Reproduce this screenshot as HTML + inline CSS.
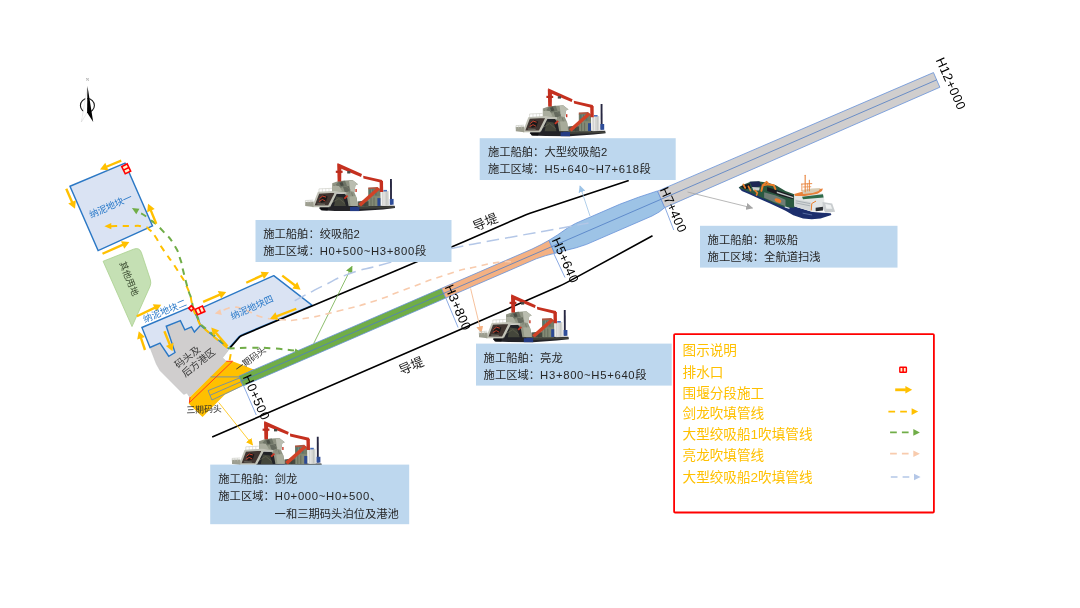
<!DOCTYPE html>
<html lang="zh-CN">
<head>
<meta charset="utf-8">
<title>施工区域分段示意图</title>
<style>
html,body{margin:0;padding:0;background:#fff;}
body{width:1080px;height:608px;overflow:hidden;position:relative;font-family:"Liberation Sans","Noto Sans CJK SC",sans-serif;}
svg{position:absolute;left:0;top:0;display:block;}
svg text{opacity:0.999;}
</style>
</head>
<body>
<svg width="1080" height="608" viewBox="0 0 1080 608">
<defs>
<marker id="tY" viewBox="0 0 10 10" refX="9" refY="5" markerWidth="7" markerHeight="7" orient="auto" markerUnits="userSpaceOnUse"><path d="M0,0 L10,5 L0,10 Z" fill="#FFC000"/></marker>
<marker id="tG" viewBox="0 0 10 10" refX="9" refY="5" markerWidth="7" markerHeight="7" orient="auto" markerUnits="userSpaceOnUse"><path d="M0,0 L10,5 L0,10 Z" fill="#70AD47"/></marker>
<marker id="tO" viewBox="0 0 10 10" refX="9" refY="5" markerWidth="7" markerHeight="7" orient="auto" markerUnits="userSpaceOnUse"><path d="M0,0 L10,5 L0,10 Z" fill="#F4B183"/></marker>
<marker id="tB" viewBox="0 0 10 10" refX="9" refY="5" markerWidth="7" markerHeight="7" orient="auto" markerUnits="userSpaceOnUse"><path d="M0,0 L10,5 L0,10 Z" fill="#9DC3E6"/></marker>
<marker id="tGy" viewBox="0 0 10 10" refX="9" refY="5" markerWidth="7" markerHeight="7" orient="auto" markerUnits="userSpaceOnUse"><path d="M0,0 L10,5 L0,10 Z" fill="#A6A6A6"/></marker>
<filter id="soft" x="-5%" y="-5%" width="110%" height="110%"><feGaussianBlur stdDeviation="0.3"/></filter>
<filter id="softd" x="-5%" y="-5%" width="110%" height="110%" color-interpolation-filters="sRGB"><feGaussianBlur stdDeviation="0.3"/><feComponentTransfer><feFuncR type="linear" slope="0.93"/><feFuncG type="linear" slope="0.93"/><feFuncB type="linear" slope="0.93"/></feComponentTransfer></filter>

</defs>
<polygon points="150.00,347.50 160.00,343.10 168.75,356.25 175.00,352.50 166.25,326.25 180.40,320.60 184.80,329.80 191.50,326.90 194.40,332.00 200.40,325.40 228.30,350.40 222.60,357.80 226.25,361.25 189.60,396.90 186.90,393.10 183.75,394.40 160.00,370.60 156.25,363.75" fill="#D0CECE" stroke="#BFBFBF" stroke-width="0.5"/>
<g stroke="#2B78C5" stroke-width="1.4" fill="#DAE3F3" stroke-linejoin="miter">
<polygon points="70.00,186.25 125.00,163.10 152.50,226.00 98.10,250.60"/>
<polygon points="141.90,327.50 192.40,306.20 200.40,325.40 194.40,332.00 191.50,326.90 184.80,329.80 180.40,320.60 166.25,326.25 175.00,352.50 168.75,356.25 160.00,343.10 150.00,347.50"/>
<path d="M195.6,310.6 L273.75,275.6 L312.2,305.4 L242.4,334.6 Q240.4,335.2 239,336.8 L228.5,348.8 L200.4,325.2 Z" stroke-linejoin="round"/>
</g>
<g fill="none" stroke="#000" stroke-width="1.6" stroke-linejoin="round" stroke-linecap="butt">
<path d="M229.6,348.4 L239.6,337 Q240.8,335.8 242.6,335.2 L397.5,270 L465,241.2 L522,216.4 Q526,214.6 530,213.2 L628.75,180.5"/>
<path d="M212.2,437.1 L443.75,336.8 L558,286.8 Q562.5,284.8 567,282.4 L652.5,235.8"/>
</g>
<path d="M103.1,261.25 L133.5,249.2 Q139.4,247 141.4,252.6 L150.4,279.8 Q151.4,283 150,286.4 L132,326.6 Z" fill="#C5E0B4" stroke="#A9D18E" stroke-width="0.8"/>
<polygon points="226.25,361.25 232.50,361.25 253.75,369.40 240.00,377.40 243.20,385.40 225.00,394.40 202.50,416.90 188.75,403.75 190.00,396.90" fill="#FFC000"/>
<g fill="none" stroke="#5F86BE" stroke-width="0.8">
<polygon points="208.10,390.60 240.00,377.80 242.80,385.60 211.90,400.00"/>
<path d="M210,395.3 L241.3,381.6"/>
<path d="M210.6,376.9 L239.4,376.9 L253.75,369.4"/>
</g>
<path d="M190,397 L189.4,402.6 L232.5,361.25 L226.25,361.25" fill="none" stroke="#FF3B1F" stroke-width="1"/>
<polygon points="238.94,376.18 441.51,288.32 445.73,298.05 243.16,385.90" fill="#70AD47" stroke="#6690D8" stroke-width="0.8" stroke-linejoin="round"/>
<polygon points="441.51,288.32 532.06,249.05 541.04,244.62 548.98,240.30 554.63,253.33 545.81,255.62 536.28,258.78 445.73,298.05" fill="#F4B183" stroke="#6690D8" stroke-width="0.8" stroke-linejoin="round"/>
<polygon points="548.98,240.30 557.55,234.95 567.61,227.97 575.47,223.47 619.69,204.29 638.43,197.25 657.50,190.95 664.74,207.64 659.03,212.08 652.01,216.00 586.69,244.33 576.20,247.79 564.40,250.73 554.63,253.33" fill="#9DC3E6" stroke="#6690D8" stroke-width="0.8" stroke-linejoin="round"/>
<polygon points="657.58,191.13 933.48,72.56 939.85,87.24 664.74,207.64" fill="#D0CECE" stroke="#6690D8" stroke-width="0.8" stroke-linejoin="round"/>
<path d="M241.09,381.13 L551.72,246.63 L936.66,79.90" stroke="#4F7CC4" stroke-width="0.8" fill="none"/>
<g stroke="#7FA2E0" stroke-width="0.9" fill="none">
<path d="M243.75,386.25 L256.25,415"/>
<path d="M445.6,297.5 L458.1,327.5"/>
<path d="M554,254 L565,277.5"/>
<path d="M665,207.5 L673.75,230"/>
</g>
<g fill="none" stroke-width="0.8">
<path d="M218.75,402.5 L252.6,445" stroke="#FFC000" marker-end="url(#tY)"/>
<path d="M313.75,343.4 L352,266.4" stroke="#70AD47" marker-end="url(#tG)"/>
<path d="M470.6,288.5 L481.25,332.5" stroke="#F4B183" marker-end="url(#tO)"/>
<path d="M590,216 L580,186" stroke="#9DC3E6" marker-end="url(#tB)"/>
<path d="M687.5,192 L752.5,208" stroke="#A6A6A6" marker-end="url(#tGy)"/>
</g>
<g fill="none">
<path d="M588.50,223.00 C582.27,224.17 598.50,221.27 569.80,226.50 C541.10,231.73 541.83,231.40 502.40,238.70 C462.97,246.00 482.30,242.10 451.50,248.40 C420.70,254.70 433.83,252.00 410.00,257.60 C386.17,263.20 400.20,259.80 380.00,265.20 C359.80,270.60 367.40,267.40 349.40,273.80 C331.40,280.20 340.17,277.60 326.00,284.40 C311.83,291.20 318.10,288.33 306.90,294.20 C295.70,300.07 297.23,299.40 292.40,302.00" stroke="#B4C7E7" stroke-width="1.5" stroke-dasharray="12.6 5.8"/>
<path d="M511.00,261.70 C506.67,261.93 509.47,260.73 498.00,262.40 C486.53,264.07 493.07,262.87 476.60,266.70 C460.13,270.53 472.88,266.13 448.60,273.90 C424.32,281.67 427.85,281.17 403.75,290.00 C379.65,298.83 397.78,293.47 376.30,300.40 C354.82,307.33 363.90,304.67 339.30,310.80 C314.70,316.93 321.02,315.80 302.50,318.80 C283.98,321.80 296.25,320.13 283.75,319.80 C271.25,319.47 276.25,320.40 265.00,317.80 C253.75,315.20 258.00,315.20 250.00,312.00 C242.00,308.80 246.42,309.77 241.00,308.20 C235.58,306.63 238.55,307.10 233.75,307.30 C228.95,307.50 230.98,307.17 226.60,308.80 C222.22,310.43 222.60,311.07 220.60,312.20" stroke="#F8CBAD" stroke-width="1.6" stroke-dasharray="6.4 5.3"/>
<path d="M229.6,360.4 L230.7,354.1" stroke="#FFC000" stroke-width="2"/>
<path d="M227.5,348 L200.4,325.6 L192.6,308  C192.30,306.07 193.37,308.73 191.70,302.20 C190.03,295.67 192.40,299.13 187.60,288.40 C182.80,277.67 185.70,283.33 177.30,270.00 C168.90,256.67 169.63,259.40 162.40,248.40 C155.17,237.40 159.73,243.07 155.60,237.00 C151.47,230.93 154.17,233.67 150.00,230.20 C145.83,226.73 149.77,228.00 143.10,226.60 C136.43,225.20 140.90,226.13 130.00,226.00 C119.10,225.87 116.93,226.13 110.40,226.20" stroke="#FFC000" stroke-width="2" stroke-dasharray="6.3 5.6"/>
<path d="M294.00,350.40 C286.00,349.67 284.67,349.07 270.00,348.20 C255.33,347.33 263.33,347.73 250.00,347.80 C236.67,347.87 236.67,348.20 230.00,348.40 L200.8,324.6 L193,307.6  C192.33,304.40 192.40,303.27 191.00,298.00 C189.60,292.73 190.50,297.30 188.80,291.80 C187.10,286.30 187.83,288.77 185.90,281.50 C183.97,274.23 184.83,277.30 183.00,270.00 C181.17,262.70 183.27,267.80 180.40,259.60 C177.53,251.40 180.07,254.73 174.40,245.40 C168.73,236.07 171.53,240.27 163.40,231.60 C155.27,222.93 158.47,226.07 150.00,219.40 C141.53,212.73 142.00,214.20 138.00,211.60" stroke="#70AD47" stroke-width="2" stroke-dasharray="6.3 5.6"/>
</g>
<polygon points="214.80,313.60 220.27,309.05 221.76,315.07" fill="#F8CBAD"/>
<polygon points="104.40,226.25 111.24,222.96 111.36,229.26" fill="#FFC000"/>
<polygon points="131.90,208.10 139.45,208.84 136.28,214.29" fill="#70AD47"/>
<polygon points="299.40,351.40 294.47,352.07 295.43,348.39" fill="#70AD47"/>
<path d="M121.25,160.60 L106.37,166.76" stroke="#FFC000" stroke-width="2.40" fill="none"/>
<polygon points="100.00,169.40 105.27,162.78 108.41,170.36" fill="#FFC000"/>
<path d="M66.25,188.75 L72.23,202.43" stroke="#FFC000" stroke-width="2.40" fill="none"/>
<polygon points="75.00,208.75 68.28,203.61 75.79,200.33" fill="#FFC000"/>
<path d="M156.25,223.75 L150.70,210.14" stroke="#FFC000" stroke-width="2.40" fill="none"/>
<polygon points="148.10,203.75 154.69,209.06 147.10,212.15" fill="#FFC000"/>
<path d="M102.50,253.75 L123.09,244.68" stroke="#FFC000" stroke-width="2.40" fill="none"/>
<polygon points="129.40,241.90 124.28,248.64 120.98,241.13" fill="#FFC000"/>
<path d="M136.90,316.25 L155.01,307.70" stroke="#FFC000" stroke-width="2.40" fill="none"/>
<polygon points="161.25,304.75 156.31,311.62 152.81,304.20" fill="#FFC000"/>
<path d="M145.00,350.00 L140.93,337.80" stroke="#FFC000" stroke-width="2.40" fill="none"/>
<polygon points="138.75,331.25 144.98,336.97 137.20,339.57" fill="#FFC000"/>
<path d="M164.40,331.25 L169.91,344.85" stroke="#FFC000" stroke-width="2.40" fill="none"/>
<polygon points="172.50,351.25 165.92,345.93 173.52,342.85" fill="#FFC000"/>
<path d="M227.50,346.25 L215.77,332.71" stroke="#FFC000" stroke-width="2.40" fill="none"/>
<polygon points="211.25,327.50 219.19,330.41 213.00,335.78" fill="#FFC000"/>
<path d="M203.10,301.90 L219.92,294.64" stroke="#FFC000" stroke-width="2.40" fill="none"/>
<polygon points="226.25,291.90 221.08,298.60 217.83,291.07" fill="#FFC000"/>
<path d="M246.25,282.75 L262.74,275.14" stroke="#FFC000" stroke-width="2.40" fill="none"/>
<polygon points="269.00,272.25 264.00,279.07 260.56,271.63" fill="#FFC000"/>
<path d="M282.25,275.60 L295.14,285.54" stroke="#FFC000" stroke-width="2.40" fill="none"/>
<polygon points="300.60,289.75 292.24,288.48 297.24,281.98" fill="#FFC000"/>
<path d="M296.25,308.75 L276.45,316.29" stroke="#FFC000" stroke-width="2.40" fill="none"/>
<polygon points="270.00,318.75 275.46,312.28 278.37,319.95" fill="#FFC000"/>
<g transform="translate(126.20,168.80) rotate(64.0)"><rect x="-4.00" y="-3.00" width="8.00" height="6.00" fill="#FFF2CC" stroke="#FF0000" stroke-width="1.6"/><path d="M0,-3.00 V3.00" stroke="#FF0000" stroke-width="1.5"/></g>
<g transform="translate(200.00,310.40) rotate(-24.0)"><rect x="-4.00" y="-3.00" width="8.00" height="6.00" fill="#FFF2CC" stroke="#FF0000" stroke-width="1.6"/><path d="M0,-3.00 V3.00" stroke="#FF0000" stroke-width="1.5"/></g>
<g transform="translate(191.30,308.30) rotate(-45.0)"><rect x="-1.80" y="-1.80" width="3.60" height="3.60" fill="#FFF2CC" stroke="#FF0000" stroke-width="1.6"/></g>
<g>
<circle cx="87.4" cy="105.5" r="7" fill="none" stroke="#1a1a1a" stroke-width="1.1"/>
<polygon points="87.45,86.3 81.3,122.2 87.2,112.4" fill="#fff"/>
<path d="M87.2,88.4 L81.3,122.2 L87.2,112.4" fill="none" stroke="#777" stroke-width="0.35" stroke-dasharray="0.5 0.7"/>
<polygon points="87.45,86.1 93.2,122 87.1,112.5" fill="#000"/>
<text x="87.5" y="81.4" font-size="4" text-anchor="middle" fill="#777" font-family="'Liberation Serif',serif">N</text>
</g>
<g transform="translate(305.00,162.50) scale(1.0000)"><g filter="url(#softd)"><polygon points="15.00,43.60 89.60,43.20 90.00,45.60 78.00,47.00 54.00,48.60 30.00,48.40 17.00,47.80 14.20,46.00" fill="#26262b" />
<polygon points="54.00,44.40 89.40,43.60 89.60,45.40 54.00,46.40" fill="#45463f" />
<polygon points="45.00,44.20 54.40,44.20 54.40,48.60 45.00,48.60" fill="#27408f" />
<polygon points="15.00,45.40 23.00,45.40 22.60,48.00 16.00,47.80" fill="#121215" />
<polygon points="26.00,31.00 45.00,31.40 47.60,44.60 22.00,44.60" fill="#25262a" />
<polygon points="31.00,34.00 38.00,35.00 41.00,43.60 29.00,43.60" fill="#4a4c40" />
<polyline points="27.00,40.00 34.00,36.00 40.00,41.00" fill="none" stroke="#6a6c58" stroke-width="0.70" />
<polygon points="52.60,39.00 63.40,37.60 63.40,44.00 52.60,44.40" fill="#5d6054" />
<polygon points="63.20,26.20 72.40,25.20 75.40,26.60 75.60,43.60 55.00,44.00 58.00,40.00 63.20,38.60" fill="#7d8770" />
<polygon points="63.20,25.00 72.60,24.40 72.60,26.20 63.20,26.80" fill="#b85e47" />
<polygon points="64.20,27.20 71.60,26.80 71.80,32.80 64.20,33.00" fill="#5c7f76" />
<polyline points="66.60,27.00 66.60,33.00" fill="none" stroke="#a9b3a0" stroke-width="0.50" />
<polyline points="69.20,27.00 69.20,33.00" fill="none" stroke="#a9b3a0" stroke-width="0.50" />
<polygon points="64.00,34.00 75.00,33.60 75.00,43.60 64.00,43.60" fill="#8d957f" />
<polygon points="55.60,40.40 63.40,38.80 63.40,44.00 55.00,44.00" fill="#4c5046" />
<polyline points="66.00,35.00 66.00,43.60" fill="none" stroke="#5a6152" stroke-width="0.60" />
<polyline points="69.00,35.00 69.00,43.60" fill="none" stroke="#5a6152" stroke-width="0.60" />
<polyline points="60.00,39.00 60.00,44.00" fill="none" stroke="#3f443b" stroke-width="0.60" />
<polygon points="76.60,28.80 83.60,28.40 84.00,43.40 76.80,43.60" fill="#e4e5e1" />
<polyline points="79.00,29.40 79.00,43.20" fill="none" stroke="#fafafa" stroke-width="1.00" />
<polyline points="81.80,29.60 81.80,43.20" fill="none" stroke="#c6c9c8" stroke-width="0.60" />
<polygon points="78.40,27.40 82.00,27.40 82.00,29.00 78.40,29.00" fill="#4f78c9" />
<polygon points="72.40,35.60 75.40,35.60 75.40,43.40 72.40,43.40" fill="#2f4fa0" />
<polygon points="27.20,20.80 33.60,18.60 47.60,17.60 53.00,21.80 50.40,23.00 49.40,30.00 51.80,35.40 52.80,43.60 43.60,43.60 42.00,34.60 39.00,30.80 27.20,29.60" fill="#9ba08e" />
<polygon points="33.60,19.00 40.00,18.20 42.00,23.20 36.00,25.20 30.60,22.60" fill="#777d6e" />
<polygon points="38.00,24.60 44.00,23.60 45.00,28.40 40.00,30.20" fill="#6d7266" />
<polyline points="29.00,22.40 29.00,29.00" fill="none" stroke="#6d7266" stroke-width="0.60" />
<polyline points="46.60,30.00 48.40,36.00 48.80,43.00" fill="none" stroke="#7b806f" stroke-width="0.80" />
<polygon points="44.00,18.40 47.60,17.80 52.80,21.80 50.40,23.00 49.40,29.60 45.40,28.60" fill="#c9ccbe" />
<polygon points="27.40,23.20 34.00,23.40 37.00,28.60 27.40,29.00" fill="#b7bbaa" />
<polygon points="44.40,34.00 51.00,33.60 52.60,43.40 45.60,43.40" fill="#b4b8a6" />
<polygon points="34.40,20.20 37.40,19.40 38.80,23.00 35.80,23.60" fill="#4f534a" />
<polyline points="41.00,24.00 45.00,27.00 44.00,31.00" fill="none" stroke="#7d8373" stroke-width="0.80" />
<polyline points="14.00,29.60 14.00,26.40 27.00,25.80" fill="none" stroke="#d6d8cf" stroke-width="0.60" />
<polyline points="17.40,26.20 17.40,29.60" fill="none" stroke="#d6d8cf" stroke-width="0.50" />
<polyline points="20.80,26.10 20.80,29.60" fill="none" stroke="#d6d8cf" stroke-width="0.50" />
<polyline points="24.00,26.00 24.00,29.60" fill="none" stroke="#d6d8cf" stroke-width="0.50" />
<polygon points="13.60,30.40 30.00,29.60 24.20,43.40 8.60,43.40" fill="#453935" />
<polygon points="15.00,35.00 19.00,32.60 22.60,34.00 21.00,39.00 16.00,40.20" fill="#1d1b1b" />
<polyline points="14.60,36.00 17.60,33.60 21.00,34.60" fill="none" stroke="#dc4631" stroke-width="1.00" />
<polyline points="14.00,39.00 17.40,37.00 20.40,38.60" fill="none" stroke="#dc4631" stroke-width="0.90" />
<polyline points="12.40,41.40 20.00,41.80" fill="none" stroke="#8c8f80" stroke-width="0.80" />
<polyline points="8.40,43.70 13.50,30.30 29.80,29.40 41.40,30.60" fill="none" stroke="#d0d1c5" stroke-width="1.90" stroke-linejoin="round"/>
<polyline points="31.20,29.80 24.20,43.60" fill="none" stroke="#d0d1c5" stroke-width="2.40" />
<polyline points="7.40,43.80 24.60,43.80" fill="none" stroke="#d0d1c4" stroke-width="1.80" />
<polygon points="0.20,39.40 8.60,39.00 8.60,44.60 0.20,43.60" fill="#a9aa9b" />
<polyline points="0.40,41.00 0.40,38.00 8.40,37.60" fill="none" stroke="#d0d2c8" stroke-width="0.60" />
<polyline points="3.00,38.00 3.00,41.00" fill="none" stroke="#d0d2c8" stroke-width="0.50" />
<polyline points="5.80,37.80 5.80,41.00" fill="none" stroke="#d0d2c8" stroke-width="0.50" />
<polygon points="32.20,1.60 36.40,2.80 36.20,18.90 32.60,18.90" fill="#d43422" />
<polygon points="30.80,8.20 37.60,8.20 37.60,10.40 30.80,10.40" fill="#c93020" />
<polygon points="32.40,0.60 57.00,11.60 56.00,14.40 33.20,5.00" fill="#d43422" />
<polygon points="42.20,8.60 45.40,8.60 45.40,11.00 42.20,11.00" fill="#4c514c" />
<polygon points="58.20,13.20 77.20,17.40 77.60,20.60 58.40,16.00" fill="#d43422" />
<polygon points="74.60,18.40 78.00,18.40 78.20,29.60 74.80,29.60" fill="#d43422" />
<polygon points="53.40,41.60 72.60,24.60 75.20,26.80 56.00,44.00" fill="#e0482a" />
<polygon points="38.60,35.60 42.00,32.60 43.20,33.80 40.00,36.80" fill="#d93b27" />
<polygon points="50.40,26.60 51.80,26.60 51.80,29.60 50.40,29.60" fill="#d93b27" />
<polygon points="85.00,16.40 86.90,16.40 87.00,42.00 85.10,42.00" fill="#2b2b47" />
<polygon points="84.80,36.40 88.60,36.40 88.60,42.20 84.80,42.20" fill="#3354a6" /></g></g>
<g transform="translate(515.60,87.60) scale(1.0000)"><g filter="url(#softd)"><polygon points="15.00,43.60 89.60,43.20 90.00,45.60 78.00,47.00 54.00,48.60 30.00,48.40 17.00,47.80 14.20,46.00" fill="#26262b" />
<polygon points="54.00,44.40 89.40,43.60 89.60,45.40 54.00,46.40" fill="#45463f" />
<polygon points="45.00,44.20 54.40,44.20 54.40,48.60 45.00,48.60" fill="#27408f" />
<polygon points="15.00,45.40 23.00,45.40 22.60,48.00 16.00,47.80" fill="#121215" />
<polygon points="26.00,31.00 45.00,31.40 47.60,44.60 22.00,44.60" fill="#25262a" />
<polygon points="31.00,34.00 38.00,35.00 41.00,43.60 29.00,43.60" fill="#4a4c40" />
<polyline points="27.00,40.00 34.00,36.00 40.00,41.00" fill="none" stroke="#6a6c58" stroke-width="0.70" />
<polygon points="52.60,39.00 63.40,37.60 63.40,44.00 52.60,44.40" fill="#5d6054" />
<polygon points="63.20,26.20 72.40,25.20 75.40,26.60 75.60,43.60 55.00,44.00 58.00,40.00 63.20,38.60" fill="#7d8770" />
<polygon points="63.20,25.00 72.60,24.40 72.60,26.20 63.20,26.80" fill="#b85e47" />
<polygon points="64.20,27.20 71.60,26.80 71.80,32.80 64.20,33.00" fill="#5c7f76" />
<polyline points="66.60,27.00 66.60,33.00" fill="none" stroke="#a9b3a0" stroke-width="0.50" />
<polyline points="69.20,27.00 69.20,33.00" fill="none" stroke="#a9b3a0" stroke-width="0.50" />
<polygon points="64.00,34.00 75.00,33.60 75.00,43.60 64.00,43.60" fill="#8d957f" />
<polygon points="55.60,40.40 63.40,38.80 63.40,44.00 55.00,44.00" fill="#4c5046" />
<polyline points="66.00,35.00 66.00,43.60" fill="none" stroke="#5a6152" stroke-width="0.60" />
<polyline points="69.00,35.00 69.00,43.60" fill="none" stroke="#5a6152" stroke-width="0.60" />
<polyline points="60.00,39.00 60.00,44.00" fill="none" stroke="#3f443b" stroke-width="0.60" />
<polygon points="76.60,28.80 83.60,28.40 84.00,43.40 76.80,43.60" fill="#e4e5e1" />
<polyline points="79.00,29.40 79.00,43.20" fill="none" stroke="#fafafa" stroke-width="1.00" />
<polyline points="81.80,29.60 81.80,43.20" fill="none" stroke="#c6c9c8" stroke-width="0.60" />
<polygon points="78.40,27.40 82.00,27.40 82.00,29.00 78.40,29.00" fill="#4f78c9" />
<polygon points="72.40,35.60 75.40,35.60 75.40,43.40 72.40,43.40" fill="#2f4fa0" />
<polygon points="27.20,20.80 33.60,18.60 47.60,17.60 53.00,21.80 50.40,23.00 49.40,30.00 51.80,35.40 52.80,43.60 43.60,43.60 42.00,34.60 39.00,30.80 27.20,29.60" fill="#9ba08e" />
<polygon points="33.60,19.00 40.00,18.20 42.00,23.20 36.00,25.20 30.60,22.60" fill="#777d6e" />
<polygon points="38.00,24.60 44.00,23.60 45.00,28.40 40.00,30.20" fill="#6d7266" />
<polyline points="29.00,22.40 29.00,29.00" fill="none" stroke="#6d7266" stroke-width="0.60" />
<polyline points="46.60,30.00 48.40,36.00 48.80,43.00" fill="none" stroke="#7b806f" stroke-width="0.80" />
<polygon points="44.00,18.40 47.60,17.80 52.80,21.80 50.40,23.00 49.40,29.60 45.40,28.60" fill="#c9ccbe" />
<polygon points="27.40,23.20 34.00,23.40 37.00,28.60 27.40,29.00" fill="#b7bbaa" />
<polygon points="44.40,34.00 51.00,33.60 52.60,43.40 45.60,43.40" fill="#b4b8a6" />
<polygon points="34.40,20.20 37.40,19.40 38.80,23.00 35.80,23.60" fill="#4f534a" />
<polyline points="41.00,24.00 45.00,27.00 44.00,31.00" fill="none" stroke="#7d8373" stroke-width="0.80" />
<polyline points="14.00,29.60 14.00,26.40 27.00,25.80" fill="none" stroke="#d6d8cf" stroke-width="0.60" />
<polyline points="17.40,26.20 17.40,29.60" fill="none" stroke="#d6d8cf" stroke-width="0.50" />
<polyline points="20.80,26.10 20.80,29.60" fill="none" stroke="#d6d8cf" stroke-width="0.50" />
<polyline points="24.00,26.00 24.00,29.60" fill="none" stroke="#d6d8cf" stroke-width="0.50" />
<polygon points="13.60,30.40 30.00,29.60 24.20,43.40 8.60,43.40" fill="#453935" />
<polygon points="15.00,35.00 19.00,32.60 22.60,34.00 21.00,39.00 16.00,40.20" fill="#1d1b1b" />
<polyline points="14.60,36.00 17.60,33.60 21.00,34.60" fill="none" stroke="#dc4631" stroke-width="1.00" />
<polyline points="14.00,39.00 17.40,37.00 20.40,38.60" fill="none" stroke="#dc4631" stroke-width="0.90" />
<polyline points="12.40,41.40 20.00,41.80" fill="none" stroke="#8c8f80" stroke-width="0.80" />
<polyline points="8.40,43.70 13.50,30.30 29.80,29.40 41.40,30.60" fill="none" stroke="#d0d1c5" stroke-width="1.90" stroke-linejoin="round"/>
<polyline points="31.20,29.80 24.20,43.60" fill="none" stroke="#d0d1c5" stroke-width="2.40" />
<polyline points="7.40,43.80 24.60,43.80" fill="none" stroke="#d0d1c4" stroke-width="1.80" />
<polygon points="0.20,39.40 8.60,39.00 8.60,44.60 0.20,43.60" fill="#a9aa9b" />
<polyline points="0.40,41.00 0.40,38.00 8.40,37.60" fill="none" stroke="#d0d2c8" stroke-width="0.60" />
<polyline points="3.00,38.00 3.00,41.00" fill="none" stroke="#d0d2c8" stroke-width="0.50" />
<polyline points="5.80,37.80 5.80,41.00" fill="none" stroke="#d0d2c8" stroke-width="0.50" />
<polygon points="32.20,1.60 36.40,2.80 36.20,18.90 32.60,18.90" fill="#d43422" />
<polygon points="30.80,8.20 37.60,8.20 37.60,10.40 30.80,10.40" fill="#c93020" />
<polygon points="32.40,0.60 57.00,11.60 56.00,14.40 33.20,5.00" fill="#d43422" />
<polygon points="42.20,8.60 45.40,8.60 45.40,11.00 42.20,11.00" fill="#4c514c" />
<polygon points="58.20,13.20 77.20,17.40 77.60,20.60 58.40,16.00" fill="#d43422" />
<polygon points="74.60,18.40 78.00,18.40 78.20,29.60 74.80,29.60" fill="#d43422" />
<polygon points="53.40,41.60 72.60,24.60 75.20,26.80 56.00,44.00" fill="#e0482a" />
<polygon points="38.60,35.60 42.00,32.60 43.20,33.80 40.00,36.80" fill="#d93b27" />
<polygon points="50.40,26.60 51.80,26.60 51.80,29.60 50.40,29.60" fill="#d93b27" />
<polygon points="85.00,16.40 86.90,16.40 87.00,42.00 85.10,42.00" fill="#2b2b47" />
<polygon points="84.80,36.40 88.60,36.40 88.60,42.20 84.80,42.20" fill="#3354a6" /></g></g>
<g transform="translate(478.80,293.60) scale(1.0000)"><g filter="url(#softd)"><polygon points="15.00,43.60 89.60,43.20 90.00,45.60 78.00,47.00 54.00,48.60 30.00,48.40 17.00,47.80 14.20,46.00" fill="#26262b" />
<polygon points="54.00,44.40 89.40,43.60 89.60,45.40 54.00,46.40" fill="#45463f" />
<polygon points="45.00,44.20 54.40,44.20 54.40,48.60 45.00,48.60" fill="#27408f" />
<polygon points="15.00,45.40 23.00,45.40 22.60,48.00 16.00,47.80" fill="#121215" />
<polygon points="26.00,31.00 45.00,31.40 47.60,44.60 22.00,44.60" fill="#25262a" />
<polygon points="31.00,34.00 38.00,35.00 41.00,43.60 29.00,43.60" fill="#4a4c40" />
<polyline points="27.00,40.00 34.00,36.00 40.00,41.00" fill="none" stroke="#6a6c58" stroke-width="0.70" />
<polygon points="52.60,39.00 63.40,37.60 63.40,44.00 52.60,44.40" fill="#5d6054" />
<polygon points="63.20,26.20 72.40,25.20 75.40,26.60 75.60,43.60 55.00,44.00 58.00,40.00 63.20,38.60" fill="#7d8770" />
<polygon points="63.20,25.00 72.60,24.40 72.60,26.20 63.20,26.80" fill="#b85e47" />
<polygon points="64.20,27.20 71.60,26.80 71.80,32.80 64.20,33.00" fill="#5c7f76" />
<polyline points="66.60,27.00 66.60,33.00" fill="none" stroke="#a9b3a0" stroke-width="0.50" />
<polyline points="69.20,27.00 69.20,33.00" fill="none" stroke="#a9b3a0" stroke-width="0.50" />
<polygon points="64.00,34.00 75.00,33.60 75.00,43.60 64.00,43.60" fill="#8d957f" />
<polygon points="55.60,40.40 63.40,38.80 63.40,44.00 55.00,44.00" fill="#4c5046" />
<polyline points="66.00,35.00 66.00,43.60" fill="none" stroke="#5a6152" stroke-width="0.60" />
<polyline points="69.00,35.00 69.00,43.60" fill="none" stroke="#5a6152" stroke-width="0.60" />
<polyline points="60.00,39.00 60.00,44.00" fill="none" stroke="#3f443b" stroke-width="0.60" />
<polygon points="76.60,28.80 83.60,28.40 84.00,43.40 76.80,43.60" fill="#e4e5e1" />
<polyline points="79.00,29.40 79.00,43.20" fill="none" stroke="#fafafa" stroke-width="1.00" />
<polyline points="81.80,29.60 81.80,43.20" fill="none" stroke="#c6c9c8" stroke-width="0.60" />
<polygon points="78.40,27.40 82.00,27.40 82.00,29.00 78.40,29.00" fill="#4f78c9" />
<polygon points="72.40,35.60 75.40,35.60 75.40,43.40 72.40,43.40" fill="#2f4fa0" />
<polygon points="27.20,20.80 33.60,18.60 47.60,17.60 53.00,21.80 50.40,23.00 49.40,30.00 51.80,35.40 52.80,43.60 43.60,43.60 42.00,34.60 39.00,30.80 27.20,29.60" fill="#9ba08e" />
<polygon points="33.60,19.00 40.00,18.20 42.00,23.20 36.00,25.20 30.60,22.60" fill="#777d6e" />
<polygon points="38.00,24.60 44.00,23.60 45.00,28.40 40.00,30.20" fill="#6d7266" />
<polyline points="29.00,22.40 29.00,29.00" fill="none" stroke="#6d7266" stroke-width="0.60" />
<polyline points="46.60,30.00 48.40,36.00 48.80,43.00" fill="none" stroke="#7b806f" stroke-width="0.80" />
<polygon points="44.00,18.40 47.60,17.80 52.80,21.80 50.40,23.00 49.40,29.60 45.40,28.60" fill="#c9ccbe" />
<polygon points="27.40,23.20 34.00,23.40 37.00,28.60 27.40,29.00" fill="#b7bbaa" />
<polygon points="44.40,34.00 51.00,33.60 52.60,43.40 45.60,43.40" fill="#b4b8a6" />
<polygon points="34.40,20.20 37.40,19.40 38.80,23.00 35.80,23.60" fill="#4f534a" />
<polyline points="41.00,24.00 45.00,27.00 44.00,31.00" fill="none" stroke="#7d8373" stroke-width="0.80" />
<polyline points="14.00,29.60 14.00,26.40 27.00,25.80" fill="none" stroke="#d6d8cf" stroke-width="0.60" />
<polyline points="17.40,26.20 17.40,29.60" fill="none" stroke="#d6d8cf" stroke-width="0.50" />
<polyline points="20.80,26.10 20.80,29.60" fill="none" stroke="#d6d8cf" stroke-width="0.50" />
<polyline points="24.00,26.00 24.00,29.60" fill="none" stroke="#d6d8cf" stroke-width="0.50" />
<polygon points="13.60,30.40 30.00,29.60 24.20,43.40 8.60,43.40" fill="#453935" />
<polygon points="15.00,35.00 19.00,32.60 22.60,34.00 21.00,39.00 16.00,40.20" fill="#1d1b1b" />
<polyline points="14.60,36.00 17.60,33.60 21.00,34.60" fill="none" stroke="#dc4631" stroke-width="1.00" />
<polyline points="14.00,39.00 17.40,37.00 20.40,38.60" fill="none" stroke="#dc4631" stroke-width="0.90" />
<polyline points="12.40,41.40 20.00,41.80" fill="none" stroke="#8c8f80" stroke-width="0.80" />
<polyline points="8.40,43.70 13.50,30.30 29.80,29.40 41.40,30.60" fill="none" stroke="#d0d1c5" stroke-width="1.90" stroke-linejoin="round"/>
<polyline points="31.20,29.80 24.20,43.60" fill="none" stroke="#d0d1c5" stroke-width="2.40" />
<polyline points="7.40,43.80 24.60,43.80" fill="none" stroke="#d0d1c4" stroke-width="1.80" />
<polygon points="0.20,39.40 8.60,39.00 8.60,44.60 0.20,43.60" fill="#a9aa9b" />
<polyline points="0.40,41.00 0.40,38.00 8.40,37.60" fill="none" stroke="#d0d2c8" stroke-width="0.60" />
<polyline points="3.00,38.00 3.00,41.00" fill="none" stroke="#d0d2c8" stroke-width="0.50" />
<polyline points="5.80,37.80 5.80,41.00" fill="none" stroke="#d0d2c8" stroke-width="0.50" />
<polygon points="32.20,1.60 36.40,2.80 36.20,18.90 32.60,18.90" fill="#d43422" />
<polygon points="30.80,8.20 37.60,8.20 37.60,10.40 30.80,10.40" fill="#c93020" />
<polygon points="32.40,0.60 57.00,11.60 56.00,14.40 33.20,5.00" fill="#d43422" />
<polygon points="42.20,8.60 45.40,8.60 45.40,11.00 42.20,11.00" fill="#4c514c" />
<polygon points="58.20,13.20 77.20,17.40 77.60,20.60 58.40,16.00" fill="#d43422" />
<polygon points="74.60,18.40 78.00,18.40 78.20,29.60 74.80,29.60" fill="#d43422" />
<polygon points="53.40,41.60 72.60,24.60 75.20,26.80 56.00,44.00" fill="#e0482a" />
<polygon points="38.60,35.60 42.00,32.60 43.20,33.80 40.00,36.80" fill="#d93b27" />
<polygon points="50.40,26.60 51.80,26.60 51.80,29.60 50.40,29.60" fill="#d93b27" />
<polygon points="85.00,16.40 86.90,16.40 87.00,42.00 85.10,42.00" fill="#2b2b47" />
<polygon points="84.80,36.40 88.60,36.40 88.60,42.20 84.80,42.20" fill="#3354a6" /></g></g>
<g transform="translate(231.80,420.40) scale(1.0000)"><g filter="url(#softd)"><polygon points="15.00,43.60 89.60,43.20 90.00,45.60 78.00,47.00 54.00,48.60 30.00,48.40 17.00,47.80 14.20,46.00" fill="#26262b" />
<polygon points="54.00,44.40 89.40,43.60 89.60,45.40 54.00,46.40" fill="#45463f" />
<polygon points="45.00,44.20 54.40,44.20 54.40,48.60 45.00,48.60" fill="#27408f" />
<polygon points="15.00,45.40 23.00,45.40 22.60,48.00 16.00,47.80" fill="#121215" />
<polygon points="26.00,31.00 45.00,31.40 47.60,44.60 22.00,44.60" fill="#25262a" />
<polygon points="31.00,34.00 38.00,35.00 41.00,43.60 29.00,43.60" fill="#4a4c40" />
<polyline points="27.00,40.00 34.00,36.00 40.00,41.00" fill="none" stroke="#6a6c58" stroke-width="0.70" />
<polygon points="52.60,39.00 63.40,37.60 63.40,44.00 52.60,44.40" fill="#5d6054" />
<polygon points="63.20,26.20 72.40,25.20 75.40,26.60 75.60,43.60 55.00,44.00 58.00,40.00 63.20,38.60" fill="#7d8770" />
<polygon points="63.20,25.00 72.60,24.40 72.60,26.20 63.20,26.80" fill="#b85e47" />
<polygon points="64.20,27.20 71.60,26.80 71.80,32.80 64.20,33.00" fill="#5c7f76" />
<polyline points="66.60,27.00 66.60,33.00" fill="none" stroke="#a9b3a0" stroke-width="0.50" />
<polyline points="69.20,27.00 69.20,33.00" fill="none" stroke="#a9b3a0" stroke-width="0.50" />
<polygon points="64.00,34.00 75.00,33.60 75.00,43.60 64.00,43.60" fill="#8d957f" />
<polygon points="55.60,40.40 63.40,38.80 63.40,44.00 55.00,44.00" fill="#4c5046" />
<polyline points="66.00,35.00 66.00,43.60" fill="none" stroke="#5a6152" stroke-width="0.60" />
<polyline points="69.00,35.00 69.00,43.60" fill="none" stroke="#5a6152" stroke-width="0.60" />
<polyline points="60.00,39.00 60.00,44.00" fill="none" stroke="#3f443b" stroke-width="0.60" />
<polygon points="76.60,28.80 83.60,28.40 84.00,43.40 76.80,43.60" fill="#e4e5e1" />
<polyline points="79.00,29.40 79.00,43.20" fill="none" stroke="#fafafa" stroke-width="1.00" />
<polyline points="81.80,29.60 81.80,43.20" fill="none" stroke="#c6c9c8" stroke-width="0.60" />
<polygon points="78.40,27.40 82.00,27.40 82.00,29.00 78.40,29.00" fill="#4f78c9" />
<polygon points="72.40,35.60 75.40,35.60 75.40,43.40 72.40,43.40" fill="#2f4fa0" />
<polygon points="27.20,20.80 33.60,18.60 47.60,17.60 53.00,21.80 50.40,23.00 49.40,30.00 51.80,35.40 52.80,43.60 43.60,43.60 42.00,34.60 39.00,30.80 27.20,29.60" fill="#9ba08e" />
<polygon points="33.60,19.00 40.00,18.20 42.00,23.20 36.00,25.20 30.60,22.60" fill="#777d6e" />
<polygon points="38.00,24.60 44.00,23.60 45.00,28.40 40.00,30.20" fill="#6d7266" />
<polyline points="29.00,22.40 29.00,29.00" fill="none" stroke="#6d7266" stroke-width="0.60" />
<polyline points="46.60,30.00 48.40,36.00 48.80,43.00" fill="none" stroke="#7b806f" stroke-width="0.80" />
<polygon points="44.00,18.40 47.60,17.80 52.80,21.80 50.40,23.00 49.40,29.60 45.40,28.60" fill="#c9ccbe" />
<polygon points="27.40,23.20 34.00,23.40 37.00,28.60 27.40,29.00" fill="#b7bbaa" />
<polygon points="44.40,34.00 51.00,33.60 52.60,43.40 45.60,43.40" fill="#b4b8a6" />
<polygon points="34.40,20.20 37.40,19.40 38.80,23.00 35.80,23.60" fill="#4f534a" />
<polyline points="41.00,24.00 45.00,27.00 44.00,31.00" fill="none" stroke="#7d8373" stroke-width="0.80" />
<polyline points="14.00,29.60 14.00,26.40 27.00,25.80" fill="none" stroke="#d6d8cf" stroke-width="0.60" />
<polyline points="17.40,26.20 17.40,29.60" fill="none" stroke="#d6d8cf" stroke-width="0.50" />
<polyline points="20.80,26.10 20.80,29.60" fill="none" stroke="#d6d8cf" stroke-width="0.50" />
<polyline points="24.00,26.00 24.00,29.60" fill="none" stroke="#d6d8cf" stroke-width="0.50" />
<polygon points="13.60,30.40 30.00,29.60 24.20,43.40 8.60,43.40" fill="#453935" />
<polygon points="15.00,35.00 19.00,32.60 22.60,34.00 21.00,39.00 16.00,40.20" fill="#1d1b1b" />
<polyline points="14.60,36.00 17.60,33.60 21.00,34.60" fill="none" stroke="#dc4631" stroke-width="1.00" />
<polyline points="14.00,39.00 17.40,37.00 20.40,38.60" fill="none" stroke="#dc4631" stroke-width="0.90" />
<polyline points="12.40,41.40 20.00,41.80" fill="none" stroke="#8c8f80" stroke-width="0.80" />
<polyline points="8.40,43.70 13.50,30.30 29.80,29.40 41.40,30.60" fill="none" stroke="#d0d1c5" stroke-width="1.90" stroke-linejoin="round"/>
<polyline points="31.20,29.80 24.20,43.60" fill="none" stroke="#d0d1c5" stroke-width="2.40" />
<polyline points="7.40,43.80 24.60,43.80" fill="none" stroke="#d0d1c4" stroke-width="1.80" />
<polygon points="0.20,39.40 8.60,39.00 8.60,44.60 0.20,43.60" fill="#a9aa9b" />
<polyline points="0.40,41.00 0.40,38.00 8.40,37.60" fill="none" stroke="#d0d2c8" stroke-width="0.60" />
<polyline points="3.00,38.00 3.00,41.00" fill="none" stroke="#d0d2c8" stroke-width="0.50" />
<polyline points="5.80,37.80 5.80,41.00" fill="none" stroke="#d0d2c8" stroke-width="0.50" />
<polygon points="32.20,1.60 36.40,2.80 36.20,18.90 32.60,18.90" fill="#d43422" />
<polygon points="30.80,8.20 37.60,8.20 37.60,10.40 30.80,10.40" fill="#c93020" />
<polygon points="32.40,0.60 57.00,11.60 56.00,14.40 33.20,5.00" fill="#d43422" />
<polygon points="42.20,8.60 45.40,8.60 45.40,11.00 42.20,11.00" fill="#4c514c" />
<polygon points="58.20,13.20 77.20,17.40 77.60,20.60 58.40,16.00" fill="#d43422" />
<polygon points="74.60,18.40 78.00,18.40 78.20,29.60 74.80,29.60" fill="#d43422" />
<polygon points="53.40,41.60 72.60,24.60 75.20,26.80 56.00,44.00" fill="#e0482a" />
<polygon points="38.60,35.60 42.00,32.60 43.20,33.80 40.00,36.80" fill="#d93b27" />
<polygon points="50.40,26.60 51.80,26.60 51.80,29.60 50.40,29.60" fill="#d93b27" />
<polygon points="85.00,16.40 86.90,16.40 87.00,42.00 85.10,42.00" fill="#2b2b47" />
<polygon points="84.80,36.40 88.60,36.40 88.60,42.20 84.80,42.20" fill="#3354a6" /></g></g>
<g filter="url(#soft)">
<polygon points="738.69,187.49 741.80,190.89 749.58,194.30 759.30,198.67 769.01,203.04 778.73,207.41 785.53,210.82 793.31,215.19 803.03,218.59 811.77,219.37 820.52,218.40 831.40,214.90 830.72,213.25 822.46,212.76 812.75,211.98 803.03,209.07 793.31,206.15 783.59,203.53 769.01,198.18 754.44,191.87 740.83,186.52" fill="#1a2f6c" />
<polygon points="738.89,187.30 743.75,184.58 750.55,181.86 759.30,181.47 767.07,182.44 775.82,185.35 785.53,190.89 794.28,194.30 794.48,207.71 783.59,206.93 773.87,203.14 764.15,198.86 754.44,194.59 744.72,190.31 739.37,187.88" fill="#2b5840" />
<polygon points="764.15,192.35 775.82,195.46 785.53,199.64 785.53,206.15 773.87,202.07 764.15,197.79" fill="#6f7d76" />
<polygon points="767.07,187.01 779.70,190.89 793.31,195.46 793.31,199.15 779.70,195.46 767.07,190.89" fill="#1c1f24" />
<polygon points="776.79,191.57 793.31,197.02 793.31,198.18 776.79,192.93" fill="#c3c9c9" />
<polygon points="749.58,181.86 759.30,181.27 761.72,186.03 752.49,187.98" fill="#1b2752" />
<polygon points="752.01,187.01 759.78,187.49 759.10,190.60 753.46,190.41" fill="#c9cfce" />
<polygon points="740.83,186.33 749.58,183.61 751.03,187.98 744.72,189.44" fill="#14181f" />
<polygon points="794.28,195.46 822.46,193.32 824.21,199.15 824.41,208.87 812.75,211.98 803.03,209.07 794.48,206.15" fill="#e3e6e6" />
<polygon points="794.48,199.15 810.80,202.07 810.80,210.82 803.03,208.87 794.48,206.15" fill="#d2d6d8" />
<polyline points="796.22,200.90 809.83,203.53" fill="none" stroke="#8d979d" stroke-width="0.60" stroke-linejoin="round" stroke-linecap="round"/>
<polyline points="796.22,203.04 809.83,205.76" fill="none" stroke="#8d979d" stroke-width="0.60" stroke-linejoin="round" stroke-linecap="round"/>
<polygon points="802.06,196.72 822.95,194.30 823.63,197.41 803.03,199.15" fill="#2f6b49" />
<polygon points="822.46,202.07 832.18,203.53 835.10,211.79 825.38,212.76 822.95,208.87" fill="#c9cdcf" />
<polygon points="815.66,207.71 822.95,206.73 822.95,210.62 815.66,211.30" fill="#2a2e33" />
<polygon points="825.38,204.01 830.72,204.99 832.18,208.87 826.35,208.68" fill="#eef0f0" />
<polygon points="794.09,194.10 803.03,191.57 812.75,189.92 822.95,188.46 821.98,190.89 817.60,193.81 804.97,196.04 795.25,196.04" fill="#e8823a" />
<polygon points="802.06,189.92 811.77,188.46 820.52,188.08 818.58,190.89 812.75,192.93 803.03,194.10" fill="#d9cdb6" />
<polyline points="805.17,175.34 805.17,191.87" fill="none" stroke="#e8823a" stroke-width="1.10" stroke-linejoin="round" stroke-linecap="round"/>
<polyline points="809.34,180.20 809.34,190.89" fill="none" stroke="#e8823a" stroke-width="1.00" stroke-linejoin="round" stroke-linecap="round"/>
<polyline points="801.57,184.09 811.77,183.61" fill="none" stroke="#e8823a" stroke-width="0.90" stroke-linejoin="round" stroke-linecap="round"/>
<polyline points="801.86,184.09 801.86,190.89" fill="none" stroke="#e8823a" stroke-width="0.80" stroke-linejoin="round" stroke-linecap="round"/>
<polyline points="807.40,183.61 807.40,190.89" fill="none" stroke="#e8823a" stroke-width="0.70" stroke-linejoin="round" stroke-linecap="round"/>
<polyline points="803.03,187.01 810.80,186.72" fill="none" stroke="#e8823a" stroke-width="0.70" stroke-linejoin="round" stroke-linecap="round"/>
<polyline points="761.43,190.89 762.70,185.55 766.58,181.86 769.01,184.58 773.87,185.35 775.33,188.95" fill="none" stroke="#ea7e2c" stroke-width="2.00" stroke-linejoin="round" stroke-linecap="round"/>
<polyline points="762.70,185.55 768.53,184.58" fill="none" stroke="#ea7e2c" stroke-width="1.60" stroke-linejoin="round" stroke-linecap="round"/>
<polyline points="743.26,184.38 745.20,187.98" fill="none" stroke="#ea7e2c" stroke-width="1.70" stroke-linejoin="round" stroke-linecap="round"/>
<polyline points="748.41,186.33 750.55,190.60" fill="none" stroke="#ea7e2c" stroke-width="1.60" stroke-linejoin="round" stroke-linecap="round"/>
<polyline points="754.92,190.41 757.35,192.84 756.57,195.07" fill="none" stroke="#ea7e2c" stroke-width="1.70" stroke-linejoin="round" stroke-linecap="round"/>
<polyline points="811.29,210.04 811.77,203.53 815.66,201.29" fill="none" stroke="#ea7e2c" stroke-width="1.00" stroke-linejoin="round" stroke-linecap="round"/>
<ellipse cx="777.95" cy="200.52" rx="3.5" ry="1.9" transform="rotate(24 777.95 200.52)" fill="#ee7d2a"/>
<polygon points="784.76,206.15 789.42,207.71 789.42,209.07 784.76,207.51" fill="#ffffff" opacity="0.85"/>
<polyline points="803.03,213.25 811.77,214.90" fill="none" stroke="#8ea0cf" stroke-width="0.50" stroke-linejoin="round" stroke-linecap="round"/>
</g>
<rect x="255.5" y="220.0" width="196.0" height="42.0" fill="#BDD7EE"/>
<rect x="479.7" y="138.2" width="196.0" height="41.8" fill="#BDD7EE"/>
<rect x="476.0" y="343.6" width="195.7" height="42.0" fill="#BDD7EE"/>
<rect x="210.2" y="464.6" width="199.0" height="59.6" fill="#BDD7EE"/>
<rect x="700.0" y="225.8" width="197.5" height="41.8" fill="#BDD7EE"/>
<rect x="674.1" y="334.1" width="259.8" height="178.4" fill="#fff" stroke="#FF0000" stroke-width="1.8" rx="1"/>
<g font-family="'Liberation Sans','Noto Sans CJK SC',sans-serif" fill="#262626" font-size="11.3px">
<text x="263.2" y="238">施工船舶：绞吸船<tspan letter-spacing="0.6">2</tspan></text>
<text x="263.2" y="255.0">施工区域：<tspan letter-spacing="0.68">H0+500~H3+800</tspan>段</text>
<text x="487.9" y="156.4">施工船舶：大型绞吸船<tspan letter-spacing="0.6">2</tspan></text>
<text x="487.9" y="173.0">施工区域：<tspan letter-spacing="0.68">H5+640~H7+618</tspan>段</text>
<text x="483.6" y="362">施工船舶：亮龙</text>
<text x="483.6" y="378.8">施工区域：<tspan letter-spacing="0.68">H3+800~H5+640</tspan>段</text>
<text x="218.3" y="483.4">施工船舶：剑龙</text>
<text x="218.3" y="500.2">施工区域：<tspan letter-spacing="0.68">H0+000~H0+500</tspan>、</text>
<text x="274.6" y="517.6">一和三期码头泊位及港池</text>
<text x="707.6" y="243.6">施工船舶：耙吸船</text>
<text x="707.6" y="261">施工区域：全航道扫浅</text>
</g>
<g font-family="'Liberation Sans','Noto Sans CJK SC',sans-serif" fill="#FFC000" font-size="13.6px">
<text x="682.6" y="355.2">图示说明</text>
<text x="682.6" y="376.6">排水口</text>
<text x="682.6" y="397.6">围堰分段施工</text>
<text x="682.6" y="418.4">剑龙吹填管线</text>
<text x="682.6" y="439.4">大型绞吸船1吹填管线</text>
<text x="682.6" y="460.4">亮龙吹填管线</text>
<text x="682.6" y="481.6">大型绞吸船2吹填管线</text>
</g>
<g transform="translate(903.1,369.8)"><rect x="-3.3" y="-2.5" width="6.6" height="5" rx="0.5" fill="#FFF2CC" stroke="#FF0000" stroke-width="1.4"/><path d="M0,-2.5 V2.5" stroke="#FF0000" stroke-width="1.5"/></g>
<path d="M895.20,389.80 L905.90,389.80" stroke="#FFC000" stroke-width="2.80" fill="none"/>
<polygon points="912.20,389.80 905.40,393.50 905.40,386.10" fill="#FFC000"/>
<path d="M888.4,411.6 h6.7 m5.1,0 h6.7" stroke="#FFC000" stroke-width="1.7" fill="none"/>
<polygon points="911.6,408.3 918.2,411.6 911.6,414.9" fill="#FFC000"/>
<path d="M890.1,432.4 h6.7 m5.1,0 h6.7" stroke="#70AD47" stroke-width="1.7" fill="none"/>
<polygon points="913.3,429.1 919.9,432.4 913.3,435.7" fill="#70AD47"/>
<path d="M890.1,453.7 h6.7 m5.1,0 h6.7" stroke="#F8CBAD" stroke-width="1.7" fill="none"/>
<polygon points="913.3,450.4 919.9,453.7 913.3,457.0" fill="#F8CBAD"/>
<path d="M890.8,477.0 h6.7 m5.1,0 h6.7" stroke="#B4C7E7" stroke-width="1.7" fill="none"/>
<polygon points="914.0,473.7 920.6,477.0 914.0,480.3" fill="#B4C7E7"/>
<text transform="translate(110.80,206.20) rotate(-24.0)" text-anchor="middle" dominant-baseline="central" font-family="'Liberation Sans','Noto Sans CJK SC',sans-serif" font-size="9.2px" fill="#2878C8" >纳泥地块一</text>
<text transform="translate(164.90,311.30) rotate(-22.5)" text-anchor="middle" dominant-baseline="central" font-family="'Liberation Sans','Noto Sans CJK SC',sans-serif" font-size="9.2px" fill="#2878C8" >纳泥地块二</text>
<text transform="translate(252.00,307.70) rotate(-24.0)" text-anchor="middle" dominant-baseline="central" font-family="'Liberation Sans','Noto Sans CJK SC',sans-serif" font-size="9.2px" fill="#2878C8" >纳泥地块四</text>
<text transform="translate(128.75,278.75) rotate(68.0)" text-anchor="middle" dominant-baseline="central" font-family="'Liberation Sans','Noto Sans CJK SC',sans-serif" font-size="9.1px" fill="#3a4a30" >其他用地</text>
<text transform="translate(187.40,356.90) rotate(-38.0)" text-anchor="middle" dominant-baseline="central" font-family="'Liberation Sans','Noto Sans CJK SC',sans-serif" font-size="9.8px" fill="#3a3a3a" >码头及</text>
<text transform="translate(198.50,362.60) rotate(-38.0)" text-anchor="middle" dominant-baseline="central" font-family="'Liberation Sans','Noto Sans CJK SC',sans-serif" font-size="9.8px" fill="#3a3a3a" >后方港区</text>
<text transform="translate(250.60,359.40) rotate(-36.5)" text-anchor="middle" dominant-baseline="central" font-family="'Liberation Sans','Noto Sans CJK SC',sans-serif" font-size="8.9px" fill="#333" >一期码头</text>
<text transform="translate(204.00,409.60) rotate(-2.5)" text-anchor="middle" dominant-baseline="central" font-family="'Liberation Sans','Noto Sans CJK SC',sans-serif" font-size="8.9px" fill="#2a2a2a" >三期码头</text>
<text transform="translate(485.20,222.20) rotate(-22.0)" text-anchor="middle" dominant-baseline="central" font-family="'Liberation Sans','Noto Sans CJK SC',sans-serif" font-size="12.8px" fill="#1a1a1a" >导堤</text>
<text transform="translate(411.30,365.80) rotate(-23.0)" text-anchor="middle" dominant-baseline="central" font-family="'Liberation Sans','Noto Sans CJK SC',sans-serif" font-size="12.8px" fill="#1a1a1a" >导堤</text>
<text transform="translate(242.40,377.10) rotate(66.0)" font-family="'Liberation Sans','Noto Sans CJK SC',sans-serif" font-size="13.0px" letter-spacing="0.4" fill="#000">H0+500</text>
<text transform="translate(444.40,287.10) rotate(67.0)" font-family="'Liberation Sans','Noto Sans CJK SC',sans-serif" font-size="13.0px" letter-spacing="0.4" fill="#000">H3+800</text>
<text transform="translate(551.40,240.10) rotate(66.0)" font-family="'Liberation Sans','Noto Sans CJK SC',sans-serif" font-size="13.0px" letter-spacing="0.4" fill="#000">H5+640</text>
<text transform="translate(659.40,189.60) rotate(66.0)" font-family="'Liberation Sans','Noto Sans CJK SC',sans-serif" font-size="13.0px" letter-spacing="0.4" fill="#000">H7+400</text>
<text transform="translate(935.40,59.90) rotate(66.0)" font-family="'Liberation Sans','Noto Sans CJK SC',sans-serif" font-size="13.0px" letter-spacing="0.4" fill="#000">H12+000</text>
</svg>
</body>
</html>
